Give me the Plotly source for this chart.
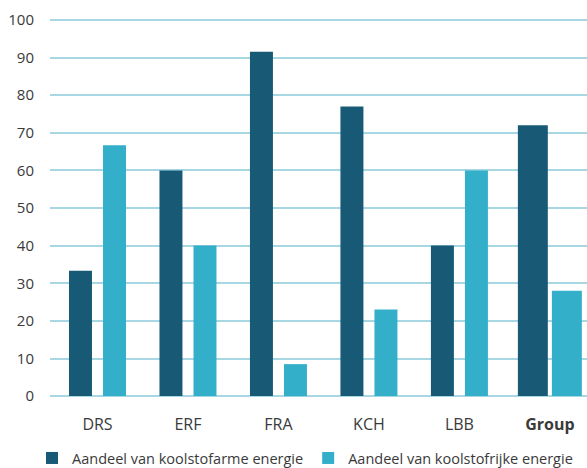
import plotly.graph_objects as go

categories = ["DRS", "ERF", "FRA", "KCH", "LBB", "Group"]
tick_labels = ["DRS", "ERF", "FRA", "KCH", "LBB", "<b>Group</b>"]
koolstofarm = [33.3, 60, 91.5, 77, 40, 72]
koolstofvrij = [66.7, 40, 8.5, 23, 60, 28]
series_names = ["Aandeel van koolstofarme energie", "Aandeel van koolstofrijke energie"]
y_ticks = list(range(0, 101, 10))

DARK = "#185a76"
LIGHT = "#34afca"
GRID = "#a6d7e3"
TEXT = "#3a3a3a"

w_norm, w_group = 0.254, 0.331
widths = [w_norm] * 5 + [w_group]
off_dark = [-0.315] * 5 + [-0.354]
off_light = [0.061] * 5 + [0.022]

fig = go.Figure()
fig.add_trace(go.Bar(x=categories, y=koolstofarm, name=series_names[0],
                     marker=dict(color=DARK, line=dict(width=0)),
                     width=widths, offset=off_dark))
fig.add_trace(go.Bar(x=categories, y=koolstofvrij, name=series_names[1],
                     marker=dict(color=LIGHT, line=dict(width=0)),
                     width=widths, offset=off_light))

fig.update_layout(
    width=587, height=468,
    margin=dict(l=50, r=0, t=18, b=70, autoexpand=False),
    plot_bgcolor="white", paper_bgcolor="white",
    barmode="overlay",
    font=dict(family="Open Sans, sans-serif", size=15, color=TEXT),
    showlegend=True,
    legend=dict(orientation="h", x=-0.0335, xanchor="left",
                y=-0.158, yanchor="middle",
                font=dict(size=14.5, color=TEXT),
                itemwidth=30, traceorder="normal"),
    xaxis=dict(type="category", range=[-0.525, 5.41], tickmode="array",
               tickvals=categories, ticktext=tick_labels, showgrid=False,
               zeroline=False, showline=False, ticks="", automargin=False,
               ticklabelstandoff=15, tickfont=dict(size=16, color=TEXT)),
    yaxis=dict(range=[-0.5, 100.5], tickmode="array", tickvals=y_ticks,
               showgrid=True, gridcolor=GRID, gridwidth=2, zeroline=False,
               showline=False, ticks="", ticklabelstandoff=15, automargin=False,
               tickfont=dict(size=15, color=TEXT)),
)

fig.write_html("out.html", config={"displayModeBar": False},
               post_script="document.body.style.margin='0';")
